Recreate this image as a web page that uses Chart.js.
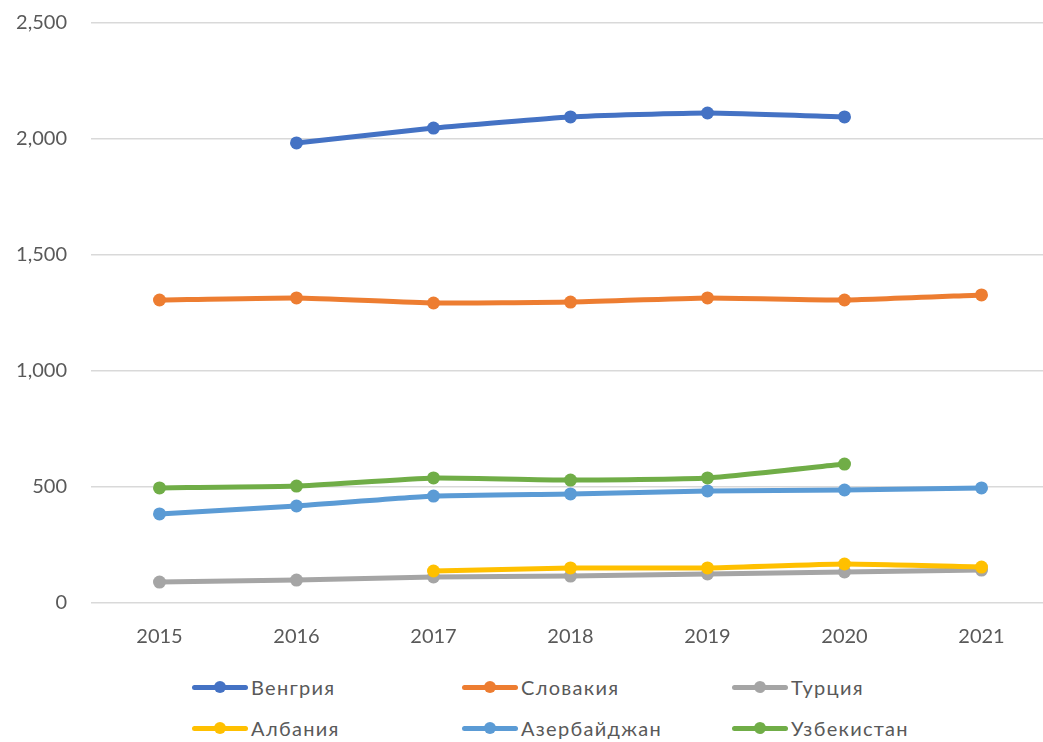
<!DOCTYPE html>
<html>
<head>
<meta charset="utf-8">
<script src="https://cdn.jsdelivr.net/npm/chart.js@4.4.1/dist/chart.umd.min.js"></script>
<style>
  html, body { margin: 0; padding: 0; background: #fff; overflow: hidden; width: 1043px; height: 742px; }
  #c { position: absolute; left: 0; top: 0; }
  .leg { position: absolute; display: flex; align-items: center; font-family: Lato, "Open Sans", sans-serif; font-size: 20px; letter-spacing: 1.3px; color: #595959; height: 24px; }
  .mk { position: relative; width: 56px; height: 24px; margin-right: 3px; }
  .mk .ln { position: absolute; left: 0; right: 0; top: 9.5px; height: 5px; border-radius: 2.5px; }
  .mk .dt { position: absolute; left: 22px; top: 6px; width: 12px; height: 12px; border-radius: 50%; }
</style>
</head>
<body>
<canvas id="c" width="1050" height="650" style="width:1050px;height:650px"></canvas>
<div id="legend"></div>
<script>
const categories = ["2015", "2016", "2017", "2018", "2019", "2020", "2021"];
const seriesNames = ["Венгрия", "Словакия", "Турция", "Албания", "Азербайджан", "Узбекистан"];
const hungary    = [null, 1983, 2047, 2095, 2112, 2095, null];
const slovakia   = [1306, 1315, 1293, 1297, 1315, 1306, 1328];
const turkey     = [90, 99, 112, 116, 125, 134, 142];
const albania    = [null, null, 138, 151, 151, 168, 155];
const azerbaijan = [384, 418, 461, 470, 483, 487, 496];
const uzbekistan = [496, 504, 539, 530, 539, 599, null];
const yTicks = [0, 500, 1000, 1500, 2000, 2500];

const colors = ["#4472C4", "#ED7D31", "#A5A5A5", "#FFC000", "#5B9BD5", "#70AD47"];
const values = [hungary, slovakia, turkey, albania, azerbaijan, uzbekistan];

const datasets = values.map((v, i) => ({
  label: seriesNames[i],
  data: v,
  borderColor: colors[i],
  backgroundColor: colors[i],
  borderWidth: 5,
  pointRadius: 6.5,
  pointHoverRadius: 6.5,
  pointBorderWidth: 0,
  tension: 0.15,
  spanGaps: false,
  order: values.length - i
}));

new Chart(document.getElementById('c'), {
  type: 'line',
  data: { labels: categories, datasets },
  options: {
    responsive: false,
    animation: false,
    devicePixelRatio: 1,
    layout: { autoPadding: false, padding: { top: 23, left: 0, right: 0, bottom: 0 } },
    plugins: { legend: { display: false }, tooltip: { enabled: false } },
    scales: {
      x: {
        offset: true,
        grid: { display: false },
        border: { display: false },
        ticks: { color: '#595959', font: { family: 'Lato', size: 20 }, padding: 14 },
        afterFit: s => { s.height = 47; s.paddingLeft = 0; s.paddingRight = 0; }
      },
      y: {
        min: 0, max: 2500,
        afterBuildTicks: s => { s.ticks = yTicks.map(v => ({ value: v })); },
        grid: { color: '#D9D9D9', lineWidth: 1.5, drawTicks: false },
        border: { display: false },
        ticks: {
          color: '#595959', font: { family: 'Lato', size: 20 }, padding: 24,
          callback: v => v.toLocaleString('en-US')
        },
        afterFit: s => { s.width = 91; s.paddingTop = 0; s.paddingBottom = 0; }
      }
    }
  }
});

const legendPos = [
  [192, 687], [462, 687], [732, 687],
  [192, 728], [462, 728], [732, 728]
];
const leg = document.getElementById('legend');
seriesNames.forEach((n, i) => {
  const d = document.createElement('div');
  d.className = 'leg';
  d.style.left = legendPos[i][0] + 'px';
  d.style.top = (legendPos[i][1] - 12) + 'px';
  d.innerHTML = '<div class="mk"><div class="ln" style="background:' + colors[i] + '"></div><div class="dt" style="background:' + colors[i] + '"></div></div><span>' + n + '</span>';
  leg.appendChild(d);
});
</script>
</body>
</html>
